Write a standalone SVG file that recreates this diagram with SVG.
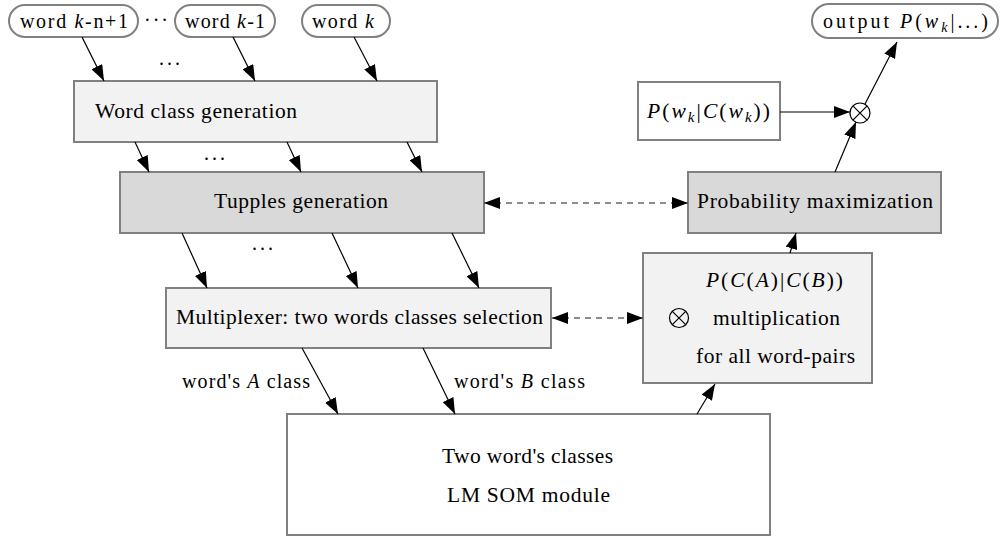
<svg xmlns="http://www.w3.org/2000/svg" width="1000" height="538" viewBox="0 0 1000 538">
  <style>
    text { font-family: 'Liberation Serif', 'Times New Roman', serif; fill: #000; }
    .t { font-size: 21.5px; }
    .s { font-size: 20px; }
    .i { font-style: italic; }
    .box { stroke: #808080; stroke-width: 2; }
    .light { fill: #f2f2f2; }
    .dark { fill: #d9d9d9; }
    .white { fill: #ffffff; }
    .edge { stroke: #000; stroke-width: 1.2; fill: none; marker-end: url(#head); }
    .dash { stroke: #666; stroke-width: 1.5; stroke-dasharray: 6 5; fill: none; marker-start: url(#head); marker-end: url(#head); }
    .otimes { fill: none; stroke: #000; stroke-width: 1.2; }
  </style>
  <defs>
    <marker id="head" viewBox="0 0 16 12" refX="16" refY="6" markerWidth="16" markerHeight="12" markerUnits="userSpaceOnUse" orient="auto-start-reverse">
      <path d="M0,0 L16,6 L0,12 z" fill="#000"/>
    </marker>
  </defs>
  <rect width="1000" height="538" fill="#fff"/>

  <!-- input words -->
  <g id="word-kn1">
    <rect class="box white" x="9" y="5" width="129" height="32" rx="16"/>
    <text class="s" x="20" y="28" textLength="108" lengthAdjust="spacing">word <tspan class="i">k</tspan>-n+1</text>
  </g>
  <text class="s" x="144" y="27" textLength="24" lengthAdjust="spacing">···</text>
  <g id="word-k1">
    <rect class="box white" x="175" y="5" width="100" height="32" rx="16"/>
    <text class="s" x="185" y="28" textLength="80" lengthAdjust="spacing">word <tspan class="i">k</tspan>-1</text>
  </g>
  <g id="word-k">
    <rect class="box white" x="302" y="5" width="88" height="32" rx="16"/>
    <text class="s" x="312" y="28" textLength="62" lengthAdjust="spacing">word <tspan class="i">k</tspan></text>
  </g>
  <text class="s" x="159" y="65" textLength="21" lengthAdjust="spacing">...</text>

  <!-- processing chain -->
  <g id="word-class-generation">
    <rect class="box light" x="74" y="81" width="363" height="61"/>
    <text class="t" x="95" y="118" textLength="202" lengthAdjust="spacing">Word class generation</text>
  </g>
  <text class="s" x="204" y="160" textLength="21" lengthAdjust="spacing">...</text>
  <g id="tupples-generation">
    <rect class="box dark" x="120" y="172" width="364" height="61"/>
    <text class="t" x="214" y="208" textLength="174" lengthAdjust="spacing">Tupples generation</text>
  </g>
  <text class="s" x="252" y="250" textLength="21" lengthAdjust="spacing">...</text>
  <g id="multiplexer">
    <rect class="box light" x="166" y="288" width="385" height="60"/>
    <text class="t" x="176" y="324" textLength="367" lengthAdjust="spacing">Multiplexer: two words classes selection</text>
  </g>
  <text class="s" x="182" y="388" textLength="128" lengthAdjust="spacing">word's <tspan class="i">A</tspan> class</text>
  <text class="s" x="454" y="388" textLength="131" lengthAdjust="spacing">word's <tspan class="i">B</tspan> class</text>
  <g id="lm-som-module">
    <rect class="box white" x="287" y="414" width="483" height="121"/>
    <text class="t" x="442" y="463" textLength="171" lengthAdjust="spacing">Two word's classes</text>
    <text class="t" x="447" y="502" textLength="163" lengthAdjust="spacing">LM SOM module</text>
  </g>
  <g id="multiplication">
    <rect class="box light" x="643" y="253" width="229" height="130"/>
    <text class="t" x="706" y="287" textLength="137" lengthAdjust="spacing"><tspan class="i">P</tspan>(<tspan class="i">C</tspan>(<tspan class="i">A</tspan>)|<tspan class="i">C</tspan>(<tspan class="i">B</tspan>))</text>
    <circle class="otimes" cx="679" cy="318" r="9.5"/>
    <path class="otimes" d="M672.3,311.3 L685.7,324.7 M685.7,311.3 L672.3,324.7"/>
    <text class="t" x="713" y="325" textLength="127" lengthAdjust="spacing">multiplication</text>
    <text class="t" x="696" y="363" textLength="159" lengthAdjust="spacing">for all word-pairs</text>
  </g>
  <g id="probability-maximization">
    <rect class="box dark" x="688" y="172" width="253" height="61"/>
    <text class="t" x="697" y="208" textLength="236" lengthAdjust="spacing">Probability maximization</text>
  </g>
  <g id="class-probability">
    <rect class="box white" x="638" y="82" width="142" height="58"/>
    <text class="t" x="647" y="118" textLength="123" lengthAdjust="spacing"><tspan class="i">P</tspan>(<tspan class="i">w</tspan><tspan class="i" font-size="15" dy="4">k</tspan><tspan dy="-4">|</tspan><tspan class="i">C</tspan>(<tspan class="i">w</tspan><tspan class="i" font-size="15" dy="4">k</tspan><tspan dy="-4">))</tspan></text>
  </g>
  <g id="product-junction">
    <circle cx="860" cy="113" r="10" fill="#fff" stroke="#000" stroke-width="1.2"/>
    <path d="M852.9,105.9 L867.1,120.1 M867.1,105.9 L852.9,120.1" stroke="#000" stroke-width="1.2"/>
  </g>
  <g id="output">
    <rect class="box white" x="812" y="4" width="186" height="34" rx="17"/>
    <text class="s" x="823" y="28" textLength="165" lengthAdjust="spacing">output <tspan class="i">P</tspan>(<tspan class="i">w</tspan><tspan class="i" font-size="14" dy="4">k</tspan><tspan dy="-4">|...)</tspan></text>
  </g>

  <!-- connectors -->
  <g id="connectors">
    <line class="edge" x1="82" y1="37" x2="104" y2="81"/>
    <line class="edge" x1="233" y1="37" x2="255" y2="81"/>
    <line class="edge" x1="354" y1="37" x2="377" y2="81"/>
    <line class="edge" x1="135" y1="142" x2="149" y2="172"/>
    <line class="edge" x1="287" y1="142" x2="301" y2="172"/>
    <line class="edge" x1="407" y1="142" x2="422" y2="172"/>
    <line class="edge" x1="182" y1="233" x2="207" y2="288"/>
    <line class="edge" x1="332" y1="233" x2="358" y2="288"/>
    <line class="edge" x1="452" y1="233" x2="479" y2="288"/>
    <line class="edge" x1="302" y1="348" x2="338" y2="414"/>
    <line class="edge" x1="423" y1="348" x2="455" y2="414"/>
    <line class="edge" x1="697" y1="414" x2="715" y2="384"/>
    <line class="edge" x1="790" y1="253" x2="796" y2="233"/>
    <line class="edge" x1="780" y1="112" x2="850" y2="112"/>
    <line class="edge" x1="835" y1="172" x2="856" y2="122"/>
    <line class="edge" x1="865" y1="104" x2="897" y2="42"/>
    <line class="dash" x1="484" y1="203" x2="688" y2="203"/>
    <line class="dash" x1="552" y1="318" x2="643" y2="318"/>
  </g>
</svg>
